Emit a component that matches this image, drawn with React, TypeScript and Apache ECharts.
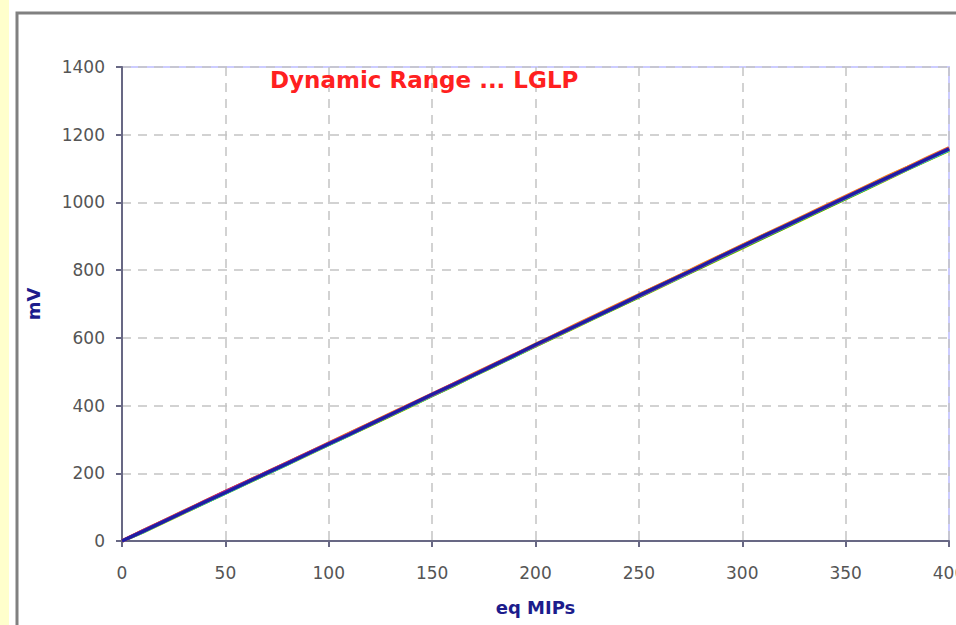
import React, { useEffect, useRef } from "react";
import * as echarts from "echarts";

const mips = [0,10,20,30,40,50,60,70,80,90,100,110,120,130,140,150,160,170,180,190,200,210,220,230,240,250,260,270,280,290,300,310,320,330,340,350,360,370,380,390,400];

const navy = [0,28,57,86,115,143,172,201,229,258,287,315,345,374,403,433,461,490,520,549,580,608,637,666,695,725,754,783,812,842,871,900,928,957,986,1015,1044,1073,1101,1130,1158];
const orange = [0,30,59,88,116,145,174,203,231,260,289,318,347,376,405,434,463,493,522,551,581,610,640,669,698,727,756,785,815,844,873,902,931,960,989,1018,1047,1076,1104,1133,1161];
const red = [0,29,58,87,117,146,174,202,231,260,288,317,346,375,404,432,462,491,521,550,579,609,638,667,696,726,755,784,813,843,872,901,929,958,987,1016,1045,1074,1103,1131,1160];
const cyan = [0,27,56,85,114,142,171,200,228,257,286,314,344,373,402,431,460,489,519,548,578,607,636,665,694,723,752,781,811,840,869,898,927,956,985,1013,1042,1071,1100,1128,1156];
const green = [0,27,56,85,113,142,171,199,228,257,285,314,343,372,401,430,459,489,518,547,577,606,635,664,693,722,751,780,809,838,867,896,925,954,983,1012,1041,1070,1099,1127,1155];
const yellow = [0,26,55,84,113,141,170,199,227,256,285,313,342,371,400,430,458,488,517,547,576,605,634,663,692,721,750,779,808,837,866,895,924,953,982,1011,1040,1069,1098,1126,1154];
const purple = [0,29,58,87,116,145,173,202,230,259,288,316,345,374,404,433,462,491,520,550,579,608,637,666,695,724,753,782,811,841,870,899,928,957,986,1015,1044,1072,1101,1130,1159];

const seriesDefs = [
  { name: "yellow", data: yellow, color: "#e8d800", width: 3.5 },
  { name: "green", data: green, color: "#20a020", width: 3.5 },
  { name: "cyan", data: cyan, color: "#20d0e0", width: 3.5 },
  { name: "red", data: red, color: "#e02020", width: 3.5 },
  { name: "orange", data: orange, color: "#f08020", width: 3.5 },
  { name: "purple", data: purple, color: "#a020a0", width: 3.5 },
  { name: "navy", data: navy, color: "#1e1ea4", width: 3.2 },
];

const FONT = "DejaVu Sans";

export default function App() {
  const ref = useRef<HTMLDivElement>(null);
  useEffect(() => {
    if (!ref.current) return;
    const chart = echarts.init(ref.current, null, { renderer: "svg" });
    chart.setOption({
      animation: false,
      backgroundColor: "#ffffff",
      graphic: [
        { type: "rect", z: -10, shape: { x: 0, y: 0, width: 9, height: 625 }, style: { fill: "#ffffcc" } },
        { type: "rect", z: -10, shape: { x: 17, y: 13, width: 1000, height: 700 }, style: { fill: "#ffffff", stroke: "#808080", lineWidth: 3 } },
      ],
      title: {
        text: "Dynamic Range ... LGLP",
        left: 270,
        top: 68,
        padding: 0,
        textStyle: { color: "#ff2020", fontFamily: FONT, fontWeight: "bold", fontSize: 23 },
      },
      grid: {
        left: 122,
        top: 67,
        right: 7,
        bottom: 84,
        outerBoundsMode: "none",
        containLabel: false,
        show: true,
        backgroundColor: "#ffffff",
        borderColor: "#ccccff",
        borderWidth: 2,
      },
      xAxis: {
        type: "value",
        min: 0,
        max: 400,
        interval: 50,
        name: "eq MIPs",
        nameLocation: "middle",
        nameGap: 57,
        nameTextStyle: { color: "#1c1c8c", fontFamily: FONT, fontWeight: "bold", fontSize: 18 },
        axisLine: { show: true, lineStyle: { color: "#686884", width: 2 } },
        axisTick: { show: true, length: 6, lineStyle: { color: "#686884", width: 2 } },
        axisLabel: { color: "#555555", fontFamily: FONT, fontSize: 17, margin: 23, formatter: (v: number) => String(v) },
        splitLine: { show: true, lineStyle: { color: "#c4c4c4", type: [9, 7], width: 1.5 } },
      },
      yAxis: {
        type: "value",
        min: 0,
        max: 1400,
        interval: 200,
        name: "mV",
        nameLocation: "middle",
        nameGap: 80,
        nameRotate: 90,
        nameTextStyle: { color: "#1c1c8c", fontFamily: FONT, fontWeight: "bold", fontSize: 18 },
        axisLine: { show: true, lineStyle: { color: "#686884", width: 2 } },
        axisTick: { show: true, length: 6, lineStyle: { color: "#686884", width: 2 } },
        axisLabel: { color: "#555555", fontFamily: FONT, fontSize: 17, margin: 17, formatter: (v: number) => String(v) },
        splitLine: { show: true, lineStyle: { color: "#c4c4c4", type: [9, 7], width: 1.5 } },
      },
      series: seriesDefs.map((s) => ({
        name: s.name,
        type: "line",
        data: mips.map((x, i) => [x, s.data[i]]),
        showSymbol: false,
        symbol: "none",
        lineStyle: { color: s.color, width: s.width },
        itemStyle: { color: s.color },
      })),
    });
    return () => chart.dispose();
  }, []);
  return <div ref={ref} style={{ position: "absolute", left: 0, top: 0, width: 956, height: 625 }} />;
}
